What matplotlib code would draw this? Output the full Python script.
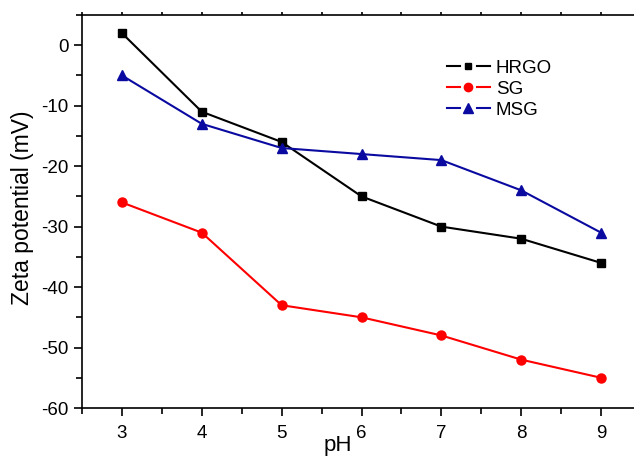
import matplotlib
matplotlib.use("Agg")
import matplotlib.pyplot as plt
from matplotlib.ticker import MultipleLocator
from matplotlib.lines import Line2D
from matplotlib.legend_handler import HandlerBase

ph = [3, 4, 5, 6, 7, 8, 9]
hrgo = [2, -11, -16, -25, -30, -32, -36]
sg = [-26, -31, -43, -45, -48, -52, -55]
msg = [-5, -13, -17, -18, -19, -24, -31]
names = ['HRGO', 'SG', 'MSG']

plt.rcParams['font.family'] = ['Liberation Sans', 'DejaVu Sans']
plt.rcParams['axes.unicode_minus'] = False

W, H = 634, 457
fig = plt.figure(figsize=(W / 100, H / 100), dpi=100)
ax = fig.add_axes([82 / W, 49 / H, (641 - 82) / W, (442 - 49) / H])

colors = ['black', '#FF0000', '#0A0AA0']
markers = ['s', 'o', '^']
sizes = [6, 6.5, 7]
lines = []
for y, c, m, s, n in zip([hrgo, sg, msg], colors, markers, sizes, names):
    ln, = ax.plot(ph, y, '-', marker=m, color=c, lw=1.5, ms=s, label=n)
    lines.append(ln)

ax.set_xlim(2.5, 9.5)
ax.set_ylim(-60, 5)
ax.xaxis.set_major_locator(MultipleLocator(1))
ax.xaxis.set_minor_locator(MultipleLocator(0.5))
ax.yaxis.set_major_locator(MultipleLocator(10))
ax.yaxis.set_minor_locator(MultipleLocator(5))
ax.spines['right'].set_visible(False)
for s in ['left', 'bottom', 'top']:
    ax.spines[s].set_linewidth(1.2)
ax.tick_params(which='major', direction='out', length=6, width=1.2, labelsize=13.5)
ax.tick_params(which='minor', direction='out', length=4, width=1.2)
ax.tick_params(axis='x', which='both', top=True, labeltop=False)
ax.tick_params(axis='x', which='major', pad=6)
for t in ax.xaxis.get_major_ticks() + ax.xaxis.get_minor_ticks():
    t.tick2line.set_markersize(2)

fig.text(23 / W, 1 - 208 / H, 'Zeta potential (mV)', fontsize=16.5, rotation=90,
         ha='center', va='center')
fig.text(338 / W, 1 - 451 / H, 'pH', fontsize=16, ha='center', va='baseline')


class GapHandler(HandlerBase):
    def create_artists(self, legend, orig_handle, xdescent, ydescent,
                       width, height, fontsize, trans):
        y = height / 2 - ydescent
        c = orig_handle.get_color()
        m = orig_handle.get_marker()
        g = width * 0.3
        x0 = -xdescent
        x1 = width - xdescent
        l1 = Line2D([x0, x0 + g], [y, y], color=c, lw=1.5, transform=trans)
        l2 = Line2D([x1 - g, x1], [y, y], color=c, lw=1.5, transform=trans)
        ms = {'s': 5, 'o': 6, '^': 6.5}[m]
        mk = Line2D([(x0 + x1) / 2], [y], marker=m, ms=ms, color=c, ls='none',
                    transform=trans)
        return [l1, l2, mk]


leg = ax.legend(lines, names, loc='upper left', bbox_to_anchor=(430 / W, 1 - 43 / H),
                bbox_transform=fig.transFigure, frameon=False, fontsize=13.5,
                handlelength=2.3, handletextpad=0.3, labelspacing=0.2,
                handler_map={Line2D: GapHandler()})

fig.savefig('out.png', dpi=100)
